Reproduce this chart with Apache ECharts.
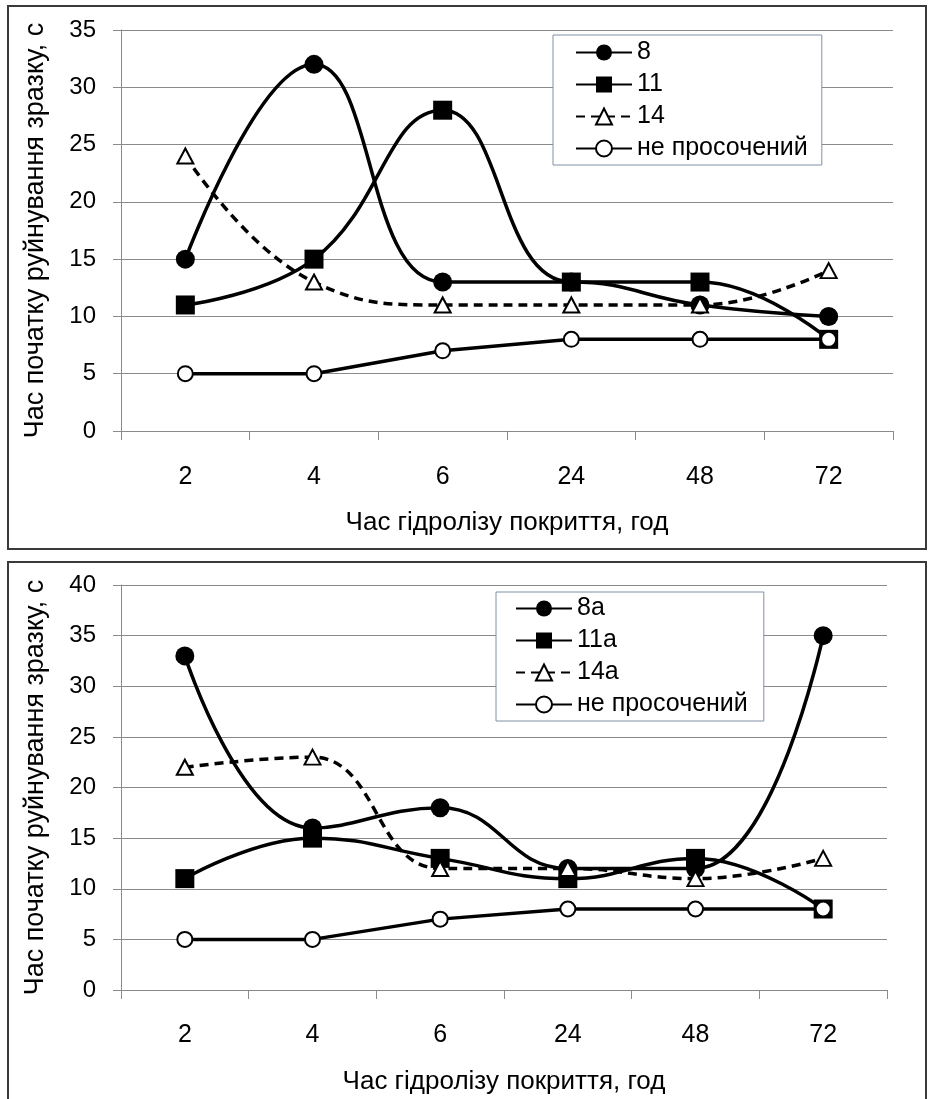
<!DOCTYPE html>
<html><head><meta charset="utf-8">
<script src="https://cdn.jsdelivr.net/npm/echarts@6/dist/echarts.min.js"></script>
<style>html,body{margin:0;padding:0;background:#fff}#c{width:928px;height:1099px}</style>
</head><body><div id="c"></div>
<script>
// ---- data ----
const categories = ['2', '4', '6', '24', '48', '72'];
const topNames = ['8', '11', '14', 'не просочений'];
const top8 = [15, 32, 13, 13, 11, 10];
const top11 = [11, 15, 28, 13, 13, 8];
const top14 = [24, 13, 11, 11, 11, 14];
const topNP = [5, 5, 7, 8, 8, 8];
const botNames = ['8a', '11a', '14a', 'не просочений'];
const bot8 = [33, 16, 18, 12, 12, 35];
const bot11 = [11, 15, 13, 11, 13, 8];
const bot14 = [22, 23, 12, 12, 11, 13];
const botNP = [5, 5, 7, 8, 8, 8];
const topTicks = [0, 5, 10, 15, 20, 25, 30, 35];
const botTicks = [0, 5, 10, 15, 20, 25, 30, 35, 40];
const xTitle = 'Час гідролізу покриття, год';
const yTitle = 'Час початку руйнування зразку, с';

// ---- styles ----
const FONT = '"Liberation Sans Narrow", "Liberation Sans", Arial, sans-serif';
const GRID_C = '#8a8a8a';
const styles = [
  { symbol: 'circle', symbolSize: 19, smooth: 0.45, itemStyle: { color: '#000' }, lineStyle: { color: '#000', width: 3.5 } },
  { symbol: 'rect', symbolSize: 19, smooth: 0.45, itemStyle: { color: '#000' }, lineStyle: { color: '#000', width: 3.5 } },
  { symbol: 'triangle', symbolSize: [16, 15], smooth: 0.45, itemStyle: { color: '#fff', borderColor: '#000', borderWidth: 2 }, lineStyle: { color: '#000', width: 3.5, type: [9, 6] } },
  { symbol: 'circle', symbolSize: 15, smooth: false, itemStyle: { color: '#fff', borderColor: '#000', borderWidth: 2 }, lineStyle: { color: '#000', width: 3.5 } }
];

function mkSeries(names, datas, gi) {
  return datas.map((d, i) => Object.assign({
    type: 'line', name: names[i], data: d, xAxisIndex: gi, yAxisIndex: gi,
    showAllSymbol: true, animation: false, z: 3 + i
  }, JSON.parse(JSON.stringify(styles[i]))));
}
function xAx(gi, margin, gap) {
  return {
    type: 'category', gridIndex: gi, data: categories, boundaryGap: true,
    axisLine: { lineStyle: { color: GRID_C, width: 1 } },
    axisTick: { show: true, length: 9, lineStyle: { color: GRID_C } },
    axisLabel: { color: '#000', fontSize: 25, fontFamily: FONT, margin: margin },
    name: xTitle, nameLocation: 'middle', nameGap: gap,
    nameTextStyle: { color: '#000', fontSize: 26, fontFamily: FONT }
  };
}
function yAx(gi, ticks, gap) {
  return {
    type: 'value', gridIndex: gi, min: ticks[0], max: ticks[ticks.length - 1], interval: ticks[1] - ticks[0],
    axisLine: { show: true, lineStyle: { color: GRID_C, width: 1 } },
    axisTick: { show: true, length: 8, lineStyle: { color: GRID_C } },
    splitLine: { lineStyle: { color: GRID_C, width: 1 } },
    axisLabel: { color: '#000', fontSize: 24, fontFamily: FONT, margin: 25 },
    name: yTitle, nameLocation: 'middle', nameGap: gap, nameRotate: 90,
    nameTextStyle: { color: '#000', fontSize: 27, fontFamily: FONT }
  };
}
function legend(names, left, top, padding) {
  return {
    data: names, orient: 'vertical', left: left, top: top,
    itemWidth: 56, itemHeight: 20, itemGap: 7,
    backgroundColor: '#fff', borderColor: '#8090a8', borderWidth: 1,
    padding: padding, selectedMode: false,
    textStyle: { color: '#000', fontSize: 25, fontFamily: FONT, lineHeight: 25 }
  };
}

const chart = echarts.init(document.getElementById('c'), null, { renderer: 'canvas' });
chart.setOption({
  animation: false,
  backgroundColor: '#fff',
  graphic: [
    { type: 'rect', silent: true, z: -10, shape: { x: 8, y: 6, width: 918, height: 543 }, style: { fill: 'none', stroke: '#3a3a3a', lineWidth: 2 } },
    { type: 'rect', silent: true, z: -10, shape: { x: 8, y: 562, width: 918, height: 545 }, style: { fill: 'none', stroke: '#3a3a3a', lineWidth: 2 } }
  ],
  grid: [
    { left: 121, top: 30, width: 772, height: 401 },
    { left: 121, top: 585, width: 766, height: 405 }
  ],
  xAxis: [xAx(0, 34, 79), xAx(1, 33, 79)],
  yAxis: [yAx(0, topTicks, 72), yAx(1, botTicks, 72)],
  legend: [
    legend(topNames, 553, 35, [5, 14, 4, 22]),
    legend(botNames, 496, 592, [4, 16, 4, 19])
  ],
  series: mkSeries(topNames, [top8, top11, top14, topNP], 0)
    .concat(mkSeries(botNames, [bot8, bot11, bot14, botNP], 1))
});
</script></body></html>
